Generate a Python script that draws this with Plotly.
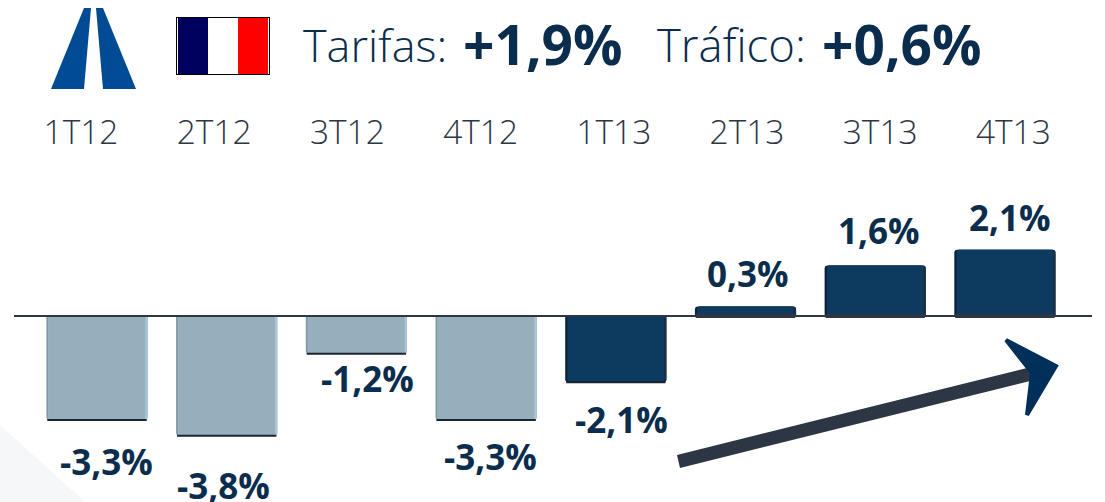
import plotly.graph_objects as go

# ---- data ----
quarters = ["1T12", "2T12", "3T12", "4T12", "1T13", "2T13", "3T13", "4T13"]
values = [-3.3, -3.8, -1.2, -3.3, -2.1, 0.3, 1.6, 2.1]
value_labels = ["-3,3%", "-3,8%", "-1,2%", "-3,3%", "-2,1%", "0,3%", "1,6%", "2,1%"]
label_dx = [9, -3, 11, 4, 6, 2, 4, 5]
label_dy = [-42, -50, -25, -37, -37, 33, 35, 32]
positions = list(range(len(quarters)))

# ---- style ----
W, H = 1105, 502
LIGHT, LIGHT_L, LIGHT_R = "#97AEBD", "#7F96A5", "#A9C5D6"
DARK, DARK_L, DARK_R = "#0D3A5F", "#0A2238", "#1A2F45"
INK = "#0A2D4D"
SLATE = "#2D3645"
FONT = "Open Sans"
n_light = 4
X0, DX = 97.0, 129.7


def colours(a, b):
    return [a] * n_light + [b] * (len(values) - n_light)


def px(x):
    return x / W


def py(y):
    return 1 - y / H


def poly(points, fill, line=None, lw=0):
    d = "M" + " L".join(f"{px(x):.5f},{py(y):.5f}" for x, y in points) + " Z"
    return dict(type="path", xref="paper", yref="paper", path=d, fillcolor=fill,
                line=dict(color=line or fill, width=lw), layer="above")


def rect(x0, y0, x1, y1, fill):
    return dict(type="rect", xref="paper", yref="paper", x0=px(x0), x1=px(x1),
                y0=py(y0), y1=py(y1), fillcolor=fill, line=dict(width=0), layer="above")


fig = go.Figure()
bw = 0.78
edge = 0.03
# overlaid layers give the bevelled sides of the bars
fig.add_bar(x=positions, y=values, width=bw, offset=-bw / 2,
            marker=dict(color=colours(LIGHT_L, DARK_L), line=dict(width=0)), hoverinfo="skip")
fig.add_bar(x=positions, y=values, width=bw - edge / 2, offset=-bw / 2 + edge / 2,
            marker=dict(color=colours(LIGHT_R, DARK_R), line=dict(width=0)), hoverinfo="skip")
fig.add_bar(x=positions, y=values, width=bw - edge * 1.2, offset=-bw / 2 + edge * 0.6,
            marker=dict(color=colours(LIGHT, DARK), line=dict(width=0)), hoverinfo="skip")

# dark lower edge of the negative bars, dark foot of the positive ones
neg_x = [p for p, v in zip(positions, values) if v < 0]
neg_y = [v for v in values if v < 0]
pos_x = [p for p, v in zip(positions, values) if v > 0]
fig.add_scatter(x=neg_x, y=neg_y, mode="markers", hoverinfo="skip",
                marker=dict(symbol="line-ew", size=71, line=dict(color="#1A2530", width=2)))
fig.add_scatter(x=pos_x, y=[0] * len(pos_x), mode="markers", hoverinfo="skip",
                marker=dict(symbol="line-ew", size=71, line=dict(color=SLATE, width=4)))

# invisible trace that carries the separately spaced quarter axis
fig.add_scatter(x=positions, y=[0] * len(positions), xaxis="x2", mode="markers",
                marker=dict(opacity=0, size=1), hoverinfo="skip")

annotations = [
    dict(x=p, y=v, xref="x", yref="y", text=t, showarrow=False, xshift=dx, yshift=dy,
         font=dict(family=FONT, size=35, color=INK, weight=700))
    for p, v, t, dx, dy in zip(positions, values, value_labels, label_dx, label_dy)
]
for x_, y_, txt, size, weight in [(301, 44, "Tarifas:", 45, 300), (461, 43, "+1,9%", 55, 700),
                                  (655, 44, "Tráfico:", 45.5, 300), (820, 43, "+0,6%", 55, 700)]:
    annotations.append(dict(x=px(x_), y=py(y_), xref="paper", yref="paper", text=txt,
                            xanchor="left", yanchor="middle", showarrow=False,
                            font=dict(family=FONT, size=size, color=INK, weight=weight)))

shapes = [
    # faint backdrop corner
    dict(type="path", xref="paper", yref="paper", layer="below", fillcolor="#F6F7F9",
         line=dict(width=0),
         path="M" + " L".join(f"{px(x):.5f},{py(y):.5f}" for x, y in [(0, 425), (85, 502), (0, 502)]) + " Z"),
    # baseline
    dict(type="line", xref="paper", yref="paper", x0=px(14), x1=px(1092), y0=py(316), y1=py(316),
         line=dict(color=SLATE, width=2), layer="above"),
    # road logo
    poly([(51, 89), (84, 89), (91, 8), (84, 8)], "#004B93"),
    poly([(96, 8), (103, 8), (136, 89), (103, 89)], "#004B93"),
    # flag
    rect(176, 17, 270, 75, "#000000"),
    rect(177, 18, 269, 74, "#FFFFFF"),
    rect(178, 18, 208, 74, "#00005F"),
    rect(238, 18, 268, 74, "#FF0000"),
    # trend arrow
    poly([(677, 455), (1031, 367), (1034, 380), (680, 468)], SLATE),
    poly([(1006, 340), (1056, 366), (1027, 415), (1032, 373)], "#00305A", lw=4),
]

fig.update_layout(
    width=W, height=H, margin=dict(l=0, r=0, t=0, b=0), barmode="overlay",
    barcornerradius=3, showlegend=False, paper_bgcolor="white", plot_bgcolor="rgba(0,0,0,0)",
    annotations=annotations, shapes=shapes,
    xaxis=dict(range=[-X0 / DX, (W - X0) / DX], visible=False, fixedrange=True),
    yaxis=dict(range=[-(H - 316) / 31.5, 316 / 31.5], visible=False, fixedrange=True),
    xaxis2=dict(range=[-81 / 133.2, (W - 81) / 133.2], overlaying="x", anchor="free",
                position=py(151), side="top", tickmode="array", tickvals=positions,
                ticktext=quarters, showgrid=False, zeroline=False, showline=False, ticks="",
                tickfont=dict(family=FONT, size=33.5, color=SLATE, weight=300), fixedrange=True),
)

fig.write_html("out.html", config={"displayModeBar": False},
               post_script="document.body.style.margin='0';document.body.style.overflow='hidden';")
